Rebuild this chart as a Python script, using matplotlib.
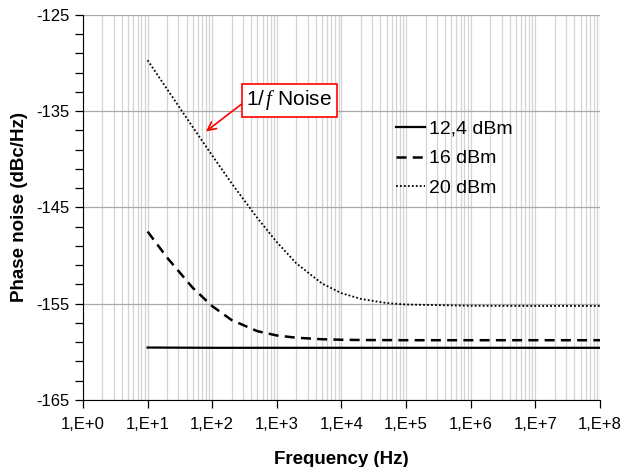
import numpy as np
import matplotlib as mpl
mpl.use('Agg')
import matplotlib.pyplot as plt
from matplotlib.ticker import FixedLocator, LogLocator, NullFormatter, FuncFormatter

plt.rcParams['font.family'] = ['Liberation Sans', 'DejaVu Sans']
plt.rcParams['axes.unicode_minus'] = False
plt.rcParams['mathtext.fontset'] = 'custom'
plt.rcParams['mathtext.rm'] = 'Liberation Serif'
plt.rcParams['mathtext.it'] = 'Liberation Serif:italic'

# values
freq = [1e1, 2e1, 5e1, 1e2, 2e2, 5e2, 1e3, 2e3, 5e3, 1e4, 2e4, 5e4, 1e5, 1e6, 1e7, 1e8]
pn_12_4 = [-159.55, -159.56, -159.57, -159.58, -159.58, -159.58, -159.58, -159.58,
           -159.58, -159.58, -159.58, -159.58, -159.58, -159.58, -159.58, -159.58]
pn_16 = [-147.5, -150.2, -153.35, -155.25, -156.7, -157.85, -158.3, -158.53,
         -158.69, -158.74, -158.77, -158.78, -158.79, -158.79, -158.79, -158.79]
pn_20 = [-129.7, -132.7, -136.65, -139.6, -142.5, -146.1, -148.6, -150.8,
         -152.9, -153.9, -154.5, -154.93, -155.08, -155.21, -155.23, -155.23]
labels = ['12,4 dBm', '16 dBm', '20 dBm']

fig = plt.figure(figsize=(6.22, 4.67), dpi=100)
ax = fig.add_axes([0.1334, 0.1435, 0.8312, 0.8244])

ax.plot(freq, pn_12_4, color='black', lw=1.6, ls='-', label=labels[0])
ax.plot(freq, pn_16, color='black', lw=1.8, ls=(0, (4, 2.5)), label=labels[1])
ax.plot(freq, pn_20, color='black', lw=1.3, ls=(0, (1, 1.2)), label=labels[2])

ax.set_xscale('log')
ax.set_xlim(1, 1e8)
ax.set_ylim(-165, -125)

ax.xaxis.set_major_locator(LogLocator(base=10, numticks=20))
ax.xaxis.set_minor_locator(LogLocator(base=10, subs=np.arange(2, 10), numticks=20))
ax.xaxis.set_minor_formatter(NullFormatter())
ax.xaxis.set_major_formatter(FuncFormatter(lambda v, p: '1,E+%d' % round(np.log10(v))))
ax.yaxis.set_major_locator(FixedLocator([-165, -155, -145, -135, -125]))
ax.yaxis.set_minor_locator(FixedLocator(np.arange(-165, -124, 2)))

ax.grid(True, which='major', axis='y', color='#a8a8a8', lw=0.9)
ax.grid(True, which='both', axis='x', color='#d4d4d4', lw=0.9)
ax.set_axisbelow(True)

for s in ['top', 'right']:
    ax.spines[s].set_visible(False)
ax.tick_params(axis='both', which='major', labelsize=12, length=6, direction='out', width=0.9)
ax.tick_params(axis='x', which='major', pad=6)
ax.tick_params(axis='y', which='minor', length=6, width=0.9)
ax.tick_params(axis='x', which='minor', length=0)

ax.set_xlabel('Frequency (Hz)', fontsize=13.5, fontweight='bold', labelpad=14)
ax.set_ylabel('Phase noise (dBc/Hz)', fontsize=13.5, fontweight='bold', labelpad=6)

leg = ax.legend(loc='upper left', bbox_to_anchor=(0.605, 0.727), frameon=False,
                borderpad=0, borderaxespad=0,
                fontsize=14, handlelength=1.5, handletextpad=0.2, labelspacing=0.62)

ax.annotate(r'1/$\,f$ Noise', xy=(80, -137.1), xytext=(0.399, 0.778),
            textcoords='axes fraction',
            fontsize=15, ha='center', va='center',
            bbox=dict(boxstyle='square,pad=0.22', fc='white', ec='red', lw=1.2),
            arrowprops=dict(arrowstyle='->', color='red', lw=1.2, shrinkA=0, shrinkB=0,
                            relpos=(0.0, 0.5)))

fig.savefig('out.png', dpi=100)
